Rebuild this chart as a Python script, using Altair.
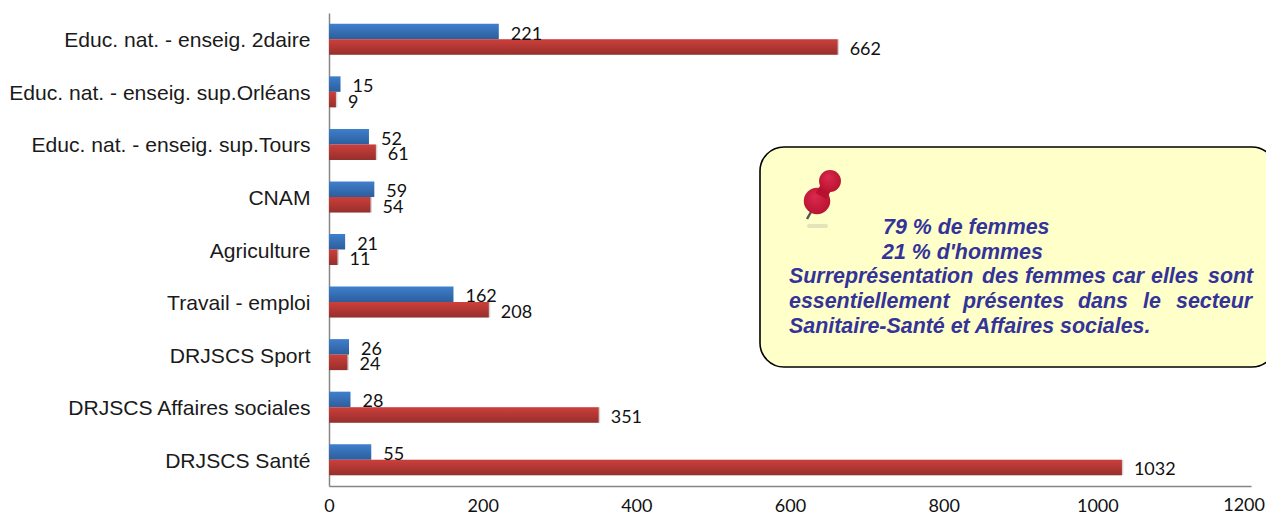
import altair as alt
import pandas as pd

categories = ["Educ. nat. - enseig. 2daire", "Educ. nat. - enseig. sup.Orléans", "Educ. nat. - enseig. sup.Tours",
              "CNAM", "Agriculture", "Travail - emploi", "DRJSCS Sport", "DRJSCS Affaires sociales", "DRJSCS Santé"]
hommes = [221, 15, 52, 59, 21, 162, 26, 28, 55]
femmes = [662, 9, 61, 54, 11, 208, 24, 351, 1032]
tick_values = [0, 200, 400, 600, 800, 1000]
last_tick = ["1200"]

LEFT, TOP = 321, 5
OX, OY = LEFT + 8, TOP + 8
W, H = 922, 473

rows = [{"cat": c, "s": "H", "v": v} for c, v in zip(categories, hommes)] + \
       [{"cat": c, "s": "F", "v": v} for c, v in zip(categories, femmes)]
df = pd.DataFrame(rows)

xs = alt.X("v:Q", scale=alt.Scale(domain=[0, 1200], nice=False),
           axis=alt.Axis(values=tick_values, grid=False, title=None, ticks=False, domainColor="#868686",
                         domainWidth=1.5, labelFont="Lato", labelFontSize=18, labelColor="#111111",
                         labelPadding=11, labelFlush=False, labelOverlap=False, format="d"))
ys = alt.Y("cat:N", sort=categories, scale=alt.Scale(domain=categories, paddingInner=0.41, paddingOuter=0.205),
           axis=alt.Axis(title=None, ticks=False, domainColor="#868686", domainWidth=1.5, labelFont="Liberation Sans",
                         labelFontSize=21.1, labelColor="#1a1a1a", labelPadding=19, labelLimit=330, labelOffset=2))
yo = alt.YOffset("s:N", scale=alt.Scale(domain=["H", "F"], paddingInner=0, paddingOuter=0))


def grad(top, bottom):
    return alt.Gradient(gradient="linear", x1=0, y1=0, x2=0, y2=1,
                        stops=[alt.GradientStop(offset=0, color=top), alt.GradientStop(offset=1, color=bottom)])


base = alt.Chart(df).encode(x=xs, y=ys, yOffset=yo)
shadow = base.transform_filter("datum.s == 'F'").mark_bar(color="#000000", opacity=0.16, yOffset=3, xOffset=1.5)
blue = base.transform_filter("datum.s == 'H'").mark_bar(fill=grad("#3f7fcd", "#2c5e9c"))
red = base.transform_filter("datum.s == 'F'").mark_bar(fill=grad("#cd3f3b", "#962f2c"))
labels = base.mark_text(align="left", baseline="middle", dx=12, dy=3, font="Lato", fontSize=18,
                        color="#111111").encode(text="v:Q")


def px(x):
    return alt.value(x - OX)


def py(y):
    return alt.value(y - OY)


def one(t="x"):
    return alt.Chart(pd.DataFrame({"t": [t]}))


end_tick = one(last_tick[0]).mark_text(align="right", baseline="top", font="Lato", fontSize=18,
                                       color="#111111").encode(x=px(1265), y=py(497), text="t:N")

box = one().mark_rect(fill="#ffffc9", stroke="#000000", strokeWidth=1.6, cornerRadius=24).encode(
    x=px(760), x2=px(1276), y=py(147), y2=py(367))


def word(t, x, y):
    return one(t).mark_text(align="left", baseline="middle", font="Liberation Sans", fontStyle="italic",
                            fontWeight="bold", fontSize=21.4, color="#333399").encode(x=px(x), y=py(y), text="t:N")


words = [("79 % de femmes", 883, 228), ("21 % d'hommes", 882, 253),
         ("Surreprésentation", 789, 277), ("des", 982, 277), ("femmes", 1025, 277), ("car", 1112, 277),
         ("elles", 1151, 277), ("sont", 1208, 277),
         ("essentiellement", 789, 302), ("présentes", 963, 302), ("dans", 1078, 302), ("le", 1143, 302),
         ("secteur", 1176, 302),
         ("Sanitaire-Santé et Affaires sociales.", 789, 327)]
text_layers = [word(*w) for w in words]

pin_red = alt.Gradient(gradient="radial", x1=0.4, y1=0.3, x2=0.5, y2=0.5, r1=0, r2=0.7,
                       stops=[alt.GradientStop(offset=0, color="#dc2a4e"), alt.GradientStop(offset=1, color="#b00d2a")])
pin = [
    one().mark_rule(color="#d9d9b0", strokeWidth=4, opacity=0.7, strokeCap="round").encode(
        x=px(809), x2=px(826), y=py(226), y2=py(226)),
    one().mark_rule(color="#555555", strokeWidth=2.5).encode(x=px(811), x2=px(807), y=py(212), y2=py(219)),
    one().mark_circle(size=700, fill=pin_red, opacity=1).encode(x=px(817), y=py(201)),
    one().mark_rule(color="#b8102f", strokeWidth=12).encode(x=px(821), x2=px(828), y=py(196), y2=py(184)),
    one().mark_circle(size=480, fill=pin_red, opacity=1).encode(x=px(830), y=py(181)),
]

chart = alt.layer(shadow, blue, red, labels, end_tick, box, *text_layers, *pin).properties(
    width=W, height=H,
    autosize=alt.AutoSizeParams(type="none"),
    padding={"left": LEFT, "top": TOP, "right": 15, "bottom": 29},
).configure_view(stroke=None)

chart.save("out.html", embed_options={"renderer": "svg", "actions": False})
